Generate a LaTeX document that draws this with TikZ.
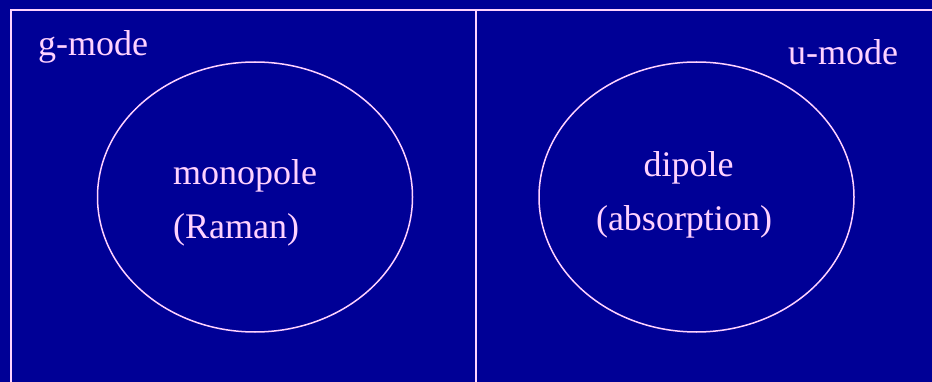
\documentclass[tikz,border=0pt]{standalone}
\usepackage{fontspec}
\setmainfont{Liberation Serif}
\usetikzlibrary{shapes.geometric, positioning}
\definecolor{slideblue}{RGB}{0,0,150}
\definecolor{slidepink}{RGB}{255,210,255}

\begin{document}
\begin{tikzpicture}[x=1pt, y=-1pt, every node/.style={font=\fontsize{36}{54}\selectfont, text=slidepink}]
    \tikzset{modeellipse/.style={ellipse, draw=slidepink, line width=1.5pt,
                          minimum width=315pt, minimum height=270pt, inner sep=0pt},
             modetext/.style={anchor=base west, inner sep=0pt}}
    \fill[slideblue] (0,0) rectangle (932,382);
    \useasboundingbox (0,0) rectangle (932,382);
    % frame and divider
    \draw[slidepink, line width=2pt] (11,395) -- (11,10) -- (945,10);
    \draw[slidepink, line width=2pt] (476,10) -- (476,395);
    \node[modetext] (gmode) at (38,56) {g-mode};
    \node[modetext] (umode) at (788,65) {u-mode};
    \node[modeellipse] (gell) at (255,197) {};
    \node[modeellipse] (uell) at (696.5,197) {};
    \node[modetext] (mono) at (173,185) {monopole};
    \node[modetext] (raman) at (173,239) {(Raman)};
    \node[anchor=base, inner sep=0pt] (dip) at (688.5,177) {dipole};
    \node[anchor=base, inner sep=0pt] (absorb) at (684,231) {(absorption)};
  \end{tikzpicture}
\end{document}
